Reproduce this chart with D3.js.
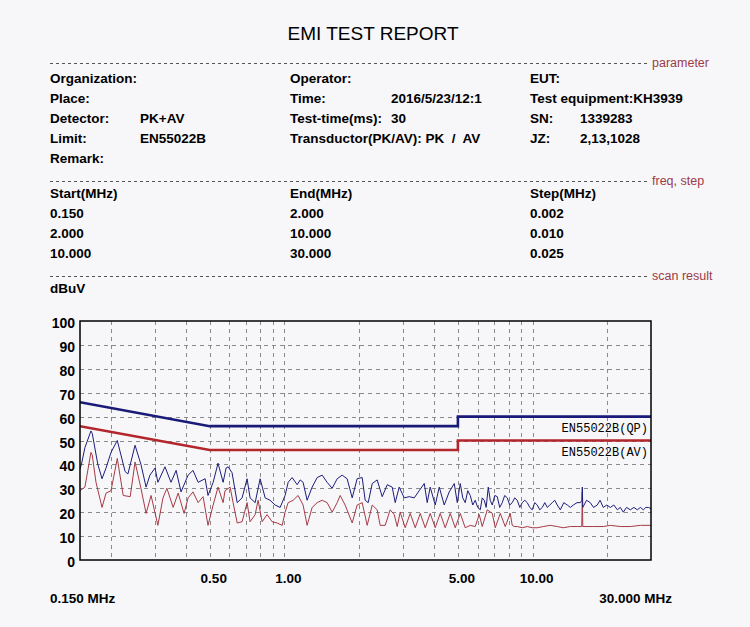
<!DOCTYPE html>
<html>
<head>
<meta charset="utf-8">
<script src="https://cdn.jsdelivr.net/npm/d3@7"></script>
<style>
body { margin: 0; background: #f7f7f9; }
svg { display: block; font-family: "Liberation Sans", Arial, sans-serif; }
.bold { font-weight: bold; font-size: 13.5px; fill: #000; white-space: pre; }
.section { font-size: 12.5px; fill: #9b3b48; }
</style>
</head>
<body>
<div id="content"></div>
<script>
/* Layout */
const WIDTH = 750;
const HEIGHT = 627;
const PLOT = {left: 80, right: 651, top: 321, bottom: 560};

/* Report texts */
const TITLE = "EMI TEST REPORT";
const SECTIONS = ["parameter", "freq, step", "scan result"];
const PARAM_COL1 = [["Organization:", ""], ["Place:", ""], ["Detector:", "PK+AV"], ["Limit:", "EN55022B"], ["Remark:", ""]];
const PARAM_COL2 = [["Operator:", ""], ["Time:", "2016/5/23/12:1"], ["Test-time(ms):", "30"], ["Transductor(PK/AV): PK  /  AV", ""]];
const PARAM_COL3 = [["EUT:", ""], ["Test equipment:KH3939", ""], ["SN:", "1339283"], ["JZ:", "2,13,1028"]];
const STEP_HEADERS = ["Start(MHz)", "End(MHz)", "Step(MHz)"];
const STEP_START = ["0.150", "2.000", "10.000"];
const STEP_END = ["2.000", "10.000", "30.000"];
const STEP_SIZE = ["0.002", "0.010", "0.025"];

/* Axes */
const FREQ_DOMAIN = [0.15, 30];
const LEVEL_TICKS = [0, 10, 20, 30, 40, 50, 60, 70, 80, 90, 100];
const FREQ_LABELS = [0.5, 1, 5, 10];
const GRID_FREQS = [0.2, 0.3, 0.4, 0.5, 0.6, 0.7, 0.8, 0.9, 1, 2, 3, 4, 5, 6, 7, 8, 9, 10, 20];

/* Limits (EN55022B) */
const LIMIT_FREQS = [0.15, 0.5, 5, 5, 30];
const QP_LIMIT = [66, 56, 56, 60, 60];
const AV_LIMIT = [56, 46, 46, 50, 50];

/* Measured traces: [MHz, dBuV] */
const PEAK_TRACE = [
  [0.150,38],[0.152,40],[0.157,47],[0.166,54],[0.168,53],[0.177,40],[0.184,34],[0.191,38.5],[0.200,45],[0.212,50],
  [0.228,37],[0.234,36],[0.250,48],[0.264,40],[0.277,30.5],[0.287,35.5],[0.301,38.5],[0.309,32.5],[0.330,39],[0.349,32.5],
  [0.366,37.5],[0.383,28.5],[0.409,35.5],[0.428,37.5],[0.449,32.5],[0.479,34],[0.492,27],[0.516,32.5],[0.540,40.5],[0.566,32.5],
  [0.582,38.5],[0.593,39],[0.615,36.5],[0.645,24],[0.675,26],[0.707,34],[0.727,26],[0.762,24],[0.798,34],[0.836,26],
  [0.875,25],[0.917,23],[0.961,22],[1.006,27],[1.035,32.5],[1.074,34.5],[1.125,31.5],[1.157,33.5],[1.189,32.5],[1.234,25],
  [1.293,30.5],[1.355,34.5],[1.419,35.5],[1.486,32.5],[1.557,30],[1.631,34],[1.708,35.5],[1.789,34],[1.875,26],[1.963,34],
  [2.057,34.5],[2.115,25],[2.175,24],[2.258,32],[2.364,33.5],[2.477,26.5],[2.595,31.5],[2.717,30.5],[2.795,24],[2.900,30.5],
  [3.039,26],[3.182,26.5],[3.334,26],[3.492,29],[3.659,32],[3.761,24],[3.867,30.5],[4.051,23],[4.205,30.5],[4.404,23],
  [4.613,28.5],[4.833,32],[4.970,24],[5.110,32],[5.230,26],[5.352,24],[5.480,29],[5.607,27],[5.740,23],[5.872,25],
  [6.010,22],[6.153,21],[6.267,26],[6.384,25],[6.500,22],[6.627,30.5],[6.750,25],[6.877,23],[7.040,27],[7.204,26.5],
  [7.370,22],[7.545,24],[7.720,27],[7.903,26],[8.090,23],[8.278,24],[8.470,26],[8.673,25],[8.880,22],[9.085,24],
  [9.300,25],[9.516,24],[9.740,22],[9.967,21],[10.20,24],[10.44,23],[10.69,21],[10.94,22],[11.20,24],[11.46,22],
  [11.73,23],[12.00,24],[12.28,25],[12.57,23],[12.93,21],[13.36,24],[13.80,23],[14.19,22],[14.59,23],[15.10,24],
  [15.57,24],[15.80,25],[15.86,30.5],[15.93,22],[16.50,25],[17.08,24],[17.60,22],[18.22,23],[18.70,25],[19.27,22],
  [19.90,23],[20.57,22],[21.25,23],[21.95,21],[22.56,22],[23.20,20],[23.90,22],[24.76,21],[25.60,22],[26.43,21],
  [27.18,22],[27.95,21],[28.60,22],[29.27,22],[30.00,21.5]
];
const AVG_TRACE = [
  [0.150,29],[0.157,30.5],[0.166,45],[0.168,44],[0.174,32.5],[0.184,22],[0.191,28],[0.200,29],[0.212,42.5],[0.224,27],
  [0.239,26.5],[0.250,41],[0.264,30],[0.277,19.5],[0.290,27],[0.309,14.5],[0.324,26],[0.336,30],[0.356,22],[0.373,28],
  [0.394,19.5],[0.409,26],[0.428,28.5],[0.449,24],[0.470,26.5],[0.492,14.5],[0.516,23],[0.540,30.5],[0.566,24],[0.576,29],
  [0.604,30.5],[0.621,24],[0.645,15.5],[0.675,16],[0.707,24],[0.727,16],[0.762,19],[0.783,25],[0.813,16],[0.851,19],
  [0.892,16],[0.934,15.5],[0.979,14.5],[1.006,20],[1.035,24],[1.084,25],[1.135,27],[1.189,23],[1.234,14.5],[1.293,22],
  [1.355,24],[1.419,25],[1.486,24],[1.557,20],[1.631,24],[1.677,27],[1.756,23],[1.875,15.5],[1.963,23],[2.057,24],
  [2.155,14.5],[2.258,23],[2.364,21],[2.431,14.5],[2.547,14.5],[2.667,21],[2.769,19],[2.847,14],[2.927,20],[3.066,13.5],
  [3.211,19.5],[3.365,13.5],[3.525,19.5],[3.692,13.5],[3.867,19.5],[4.051,13.5],[4.243,19.5],[4.445,13.5],[4.656,19.5],[4.878,13.5],
  [5.110,19.5],[5.352,13.5],[5.607,14.5],[5.872,14],[6.094,19],[6.267,14],[6.566,21],[6.877,19.5],[7.071,13.5],[7.407,19.5],
  [7.757,14],[8.125,19.5],[8.278,14.5],[8.435,14],[8.673,14],[9.085,13.5],[9.516,14],[9.967,13.5],[10.44,13.5],[11.04,14],
  [11.78,14.5],[12.57,14],[13.29,13.5],[14.19,14],[15.14,14],[15.78,14],[15.86,28.5],[15.93,14],[17.56,14],[19.27,14],
  [20.57,14.5],[22.56,14],[24.76,14],[27.18,14.5],[30.00,14.5]
];


window.onload = () => {
    buildReport();
}


//buildReport() draws the whole sheet: header texts, then the scan result chart.
function buildReport() {

    const svg = d3.select("#content").append("svg").attr("width", WIDTH).attr("height", HEIGHT);

    svg.append("text").attr("x", 373).attr("y", 40).attr("text-anchor", "middle")
        .style("font-size", "19px").text(TITLE);

    //Dashed separators with their red captions.
    [63, 181, 276].forEach((yy, i) => {
        svg.append("line").attr("x1", 50).attr("x2", 647).attr("y1", yy + 0.5).attr("y2", yy + 0.5)
            .attr("stroke", "#555").attr("stroke-dasharray", "3,3");
        svg.append("text").attr("class", "section").attr("x", 652).attr("y", yy + 4).text(SECTIONS[i]);
    });

    //Parameter block, three columns.
    const cols = [[PARAM_COL1, 50, 140], [PARAM_COL2, 290, 391], [PARAM_COL3, 530, 580]];
    cols.forEach(([rows, xl, xv]) => {
        rows.forEach((r, i) => {
            svg.append("text").attr("class", "bold").attr("x", xl).attr("y", 83 + i * 20).text(r[0]);
            if (r[1]) svg.append("text").attr("class", "bold").attr("x", xv).attr("y", 83 + i * 20).text(r[1]);
        });
    });

    //Frequency steps table.
    [[STEP_HEADERS[0], STEP_START], [STEP_HEADERS[1], STEP_END], [STEP_HEADERS[2], STEP_SIZE]].forEach(([h, vals], c) => {
        let xx = [50, 290, 530][c];
        svg.append("text").attr("class", "bold").attr("x", xx).attr("y", 198).text(h);
        vals.forEach((v, i) => {
            svg.append("text").attr("class", "bold").attr("x", xx).attr("y", 218 + i * 20).text(v);
        });
    });

    svg.append("text").attr("class", "bold").attr("x", 50).attr("y", 293).text("dBuV");

    /* Chart */
    const x = d3.scaleLog().domain(FREQ_DOMAIN).range([PLOT.left, PLOT.right]);
    const y = d3.scaleLinear().domain([0, 100]).range([PLOT.bottom, PLOT.top]);

    svg.append("clipPath").attr("id", "plotclip").append("rect")
        .attr("x", PLOT.left).attr("y", PLOT.top)
        .attr("width", PLOT.right - PLOT.left).attr("height", PLOT.bottom - PLOT.top);

    const grid = svg.append("g").attr("stroke", "#8a8a8a").attr("stroke-dasharray", "4,4").attr("stroke-width", 1);
    grid.selectAll("line.v").data(GRID_FREQS).enter().append("line")
        .attr("x1", (d) => Math.round(x(d)) + 0.5).attr("x2", (d) => Math.round(x(d)) + 0.5)
        .attr("y1", PLOT.top).attr("y2", PLOT.bottom);
    grid.selectAll("line.h").data(LEVEL_TICKS.slice(1, -1)).enter().append("line")
        .attr("x1", PLOT.left).attr("x2", PLOT.right)
        .attr("y1", (d) => Math.round(y(d)) + 0.5).attr("y2", (d) => Math.round(y(d)) + 0.5);

    //Y axis labels
    svg.append("g").selectAll("text").data(LEVEL_TICKS).enter().append("text")
        .attr("class", "bold").attr("text-anchor", "end").style("font-size", "14px")
        .attr("x", 75).attr("y", (d) => y(d) + 7).text((d) => d);

    //X axis labels
    svg.append("g").selectAll("text").data(FREQ_LABELS).enter().append("text")
        .attr("class", "bold").attr("text-anchor", "middle")
        .attr("x", (d) => x(d) + 4).attr("y", 583).text((d) => d.toFixed(2));
    svg.append("text").attr("class", "bold").attr("x", 50).attr("y", 603).text(FREQ_DOMAIN[0].toFixed(3) + " MHz");
    svg.append("text").attr("class", "bold").attr("text-anchor", "end").attr("x", 672).attr("y", 603)
        .text(FREQ_DOMAIN[1].toFixed(3) + " MHz");

    const line = d3.line().x((d) => x(d[0])).y((d) => y(d[1]));
    const plot = svg.append("g").attr("clip-path", "url(#plotclip)").attr("fill", "none");

    plot.append("path").attr("d", line(AVG_TRACE)).attr("stroke", "#a63a46").attr("stroke-width", 1);
    plot.append("path").attr("d", line(PEAK_TRACE)).attr("stroke", "#1d1d7c").attr("stroke-width", 1);

    plot.append("path").attr("d", line(LIMIT_FREQS.map((f, i) => [f, AV_LIMIT[i]])))
        .attr("stroke", "#b3262c").attr("stroke-width", 2.6);
    plot.append("path").attr("d", line(LIMIT_FREQS.map((f, i) => [f, QP_LIMIT[i]])))
        .attr("stroke", "#1a1a78").attr("stroke-width", 2.6);

    //Limit captions under the lines at the right edge.
    [["EN55022B(QP)", QP_LIMIT], ["EN55022B(AV)", AV_LIMIT]].forEach(([t, lim]) => {
        svg.append("text").attr("x", PLOT.right - 3).attr("y", y(lim[lim.length - 1]) + 15)
            .attr("text-anchor", "end").style("font-family", "'Liberation Mono', monospace")
            .style("font-size", "12px").text(t);
    });

    svg.append("rect").attr("x", PLOT.left).attr("y", PLOT.top)
        .attr("width", PLOT.right - PLOT.left).attr("height", PLOT.bottom - PLOT.top)
        .attr("fill", "none").attr("stroke", "#000").attr("stroke-width", 1.5);
}
</script>
</body>
</html>
